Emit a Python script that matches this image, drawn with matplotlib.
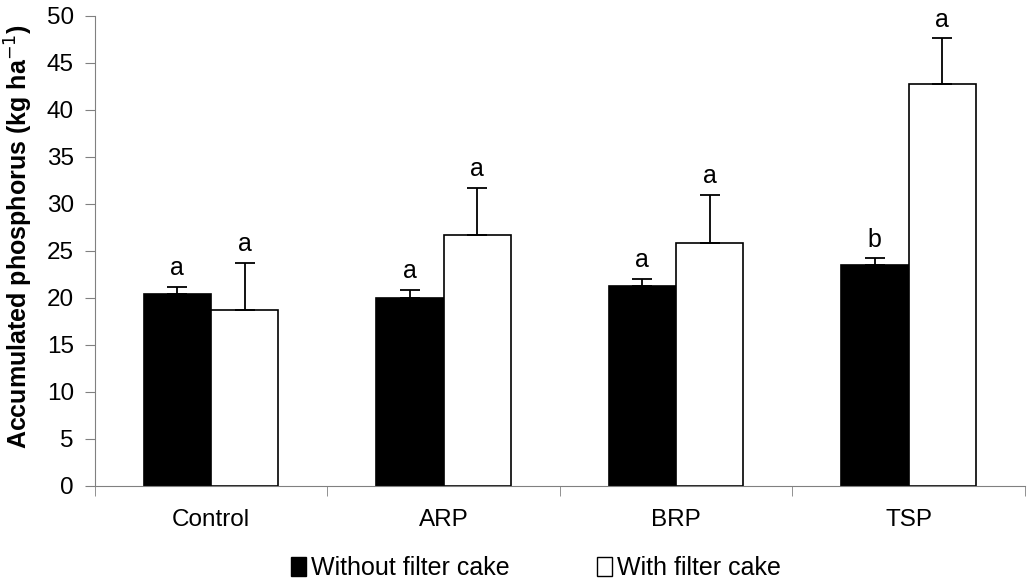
import matplotlib.pyplot as plt
from matplotlib.patches import Patch
import numpy as np

plt.rcParams['font.family'] = ['Liberation Sans', 'DejaVu Sans']

categories = ['Control', 'ARP', 'BRP', 'TSP']
without_fc = [20.4, 20.0, 21.3, 23.5]
without_err = [0.8, 0.85, 0.75, 0.7]
with_fc = [18.7, 26.7, 25.85, 42.7]
with_err = [5.0, 5.0, 5.1, 4.9]
letters_without = ['a', 'a', 'a', 'b']
letters_with = ['a', 'a', 'a', 'a']

fig = plt.figure(figsize=(10.3, 5.84), dpi=100)
ax = fig.add_axes([0.092, 0.168, 0.903, 0.805])

x = np.arange(len(categories))
w = 0.29
ax.bar(x - w/2, without_fc, w, color='black', edgecolor='black', linewidth=1.2,
       yerr=[np.zeros(4), without_err], error_kw=dict(ecolor='black', capsize=7, elinewidth=1.3, capthick=1.3))
ax.bar(x + w/2, with_fc, w, color='white', edgecolor='black', linewidth=1.2,
       yerr=[np.zeros(4), with_err], error_kw=dict(ecolor='black', capsize=7, elinewidth=1.3, capthick=1.3))

for i in range(len(categories)):
    ax.text(x[i] - w/2, without_fc[i] + without_err[i] + 0.7, letters_without[i],
            ha='center', va='bottom', fontsize=18)
    ax.text(x[i] + w/2, with_fc[i] + with_err[i] + 0.7, letters_with[i],
            ha='center', va='bottom', fontsize=18)

ax.set_xlim(-0.5, 3.5)
ax.set_ylim(0, 50)
ax.set_yticks(range(0, 51, 5))
ax.set_xticks(x)
ax.set_xticklabels(categories)
ax.set_xticks(np.arange(-0.5, 4, 1), minor=True)
ax.tick_params(axis='x', which='major', length=0, pad=17, labelsize=17.5)
ax.tick_params(axis='x', which='minor', length=7, color='#808080')
ax.tick_params(axis='y', length=7, pad=8, color='#808080', labelsize=17.5)
for s in ['top', 'right']:
    ax.spines[s].set_visible(False)
for s in ['left', 'bottom']:
    ax.spines[s].set_color('#808080')
ax.set_ylabel('Accumulated phosphorus (kg ha$^{-1}$)', fontsize=18, fontweight='bold')
ax.yaxis.set_label_coords(-0.064, 0.53)

handles = [Patch(facecolor='black', edgecolor='black', label='Without filter cake'),
           Patch(facecolor='white', edgecolor='black', label='With filter cake')]
fig.legend(handles=handles, loc='lower center', bbox_to_anchor=(0.52, -0.032), ncol=2,
           frameon=False, fontsize=18, handlelength=0.6, handleheight=0.8,
           handletextpad=0.2, columnspacing=3.5)

fig.savefig('out.png', dpi=100)
